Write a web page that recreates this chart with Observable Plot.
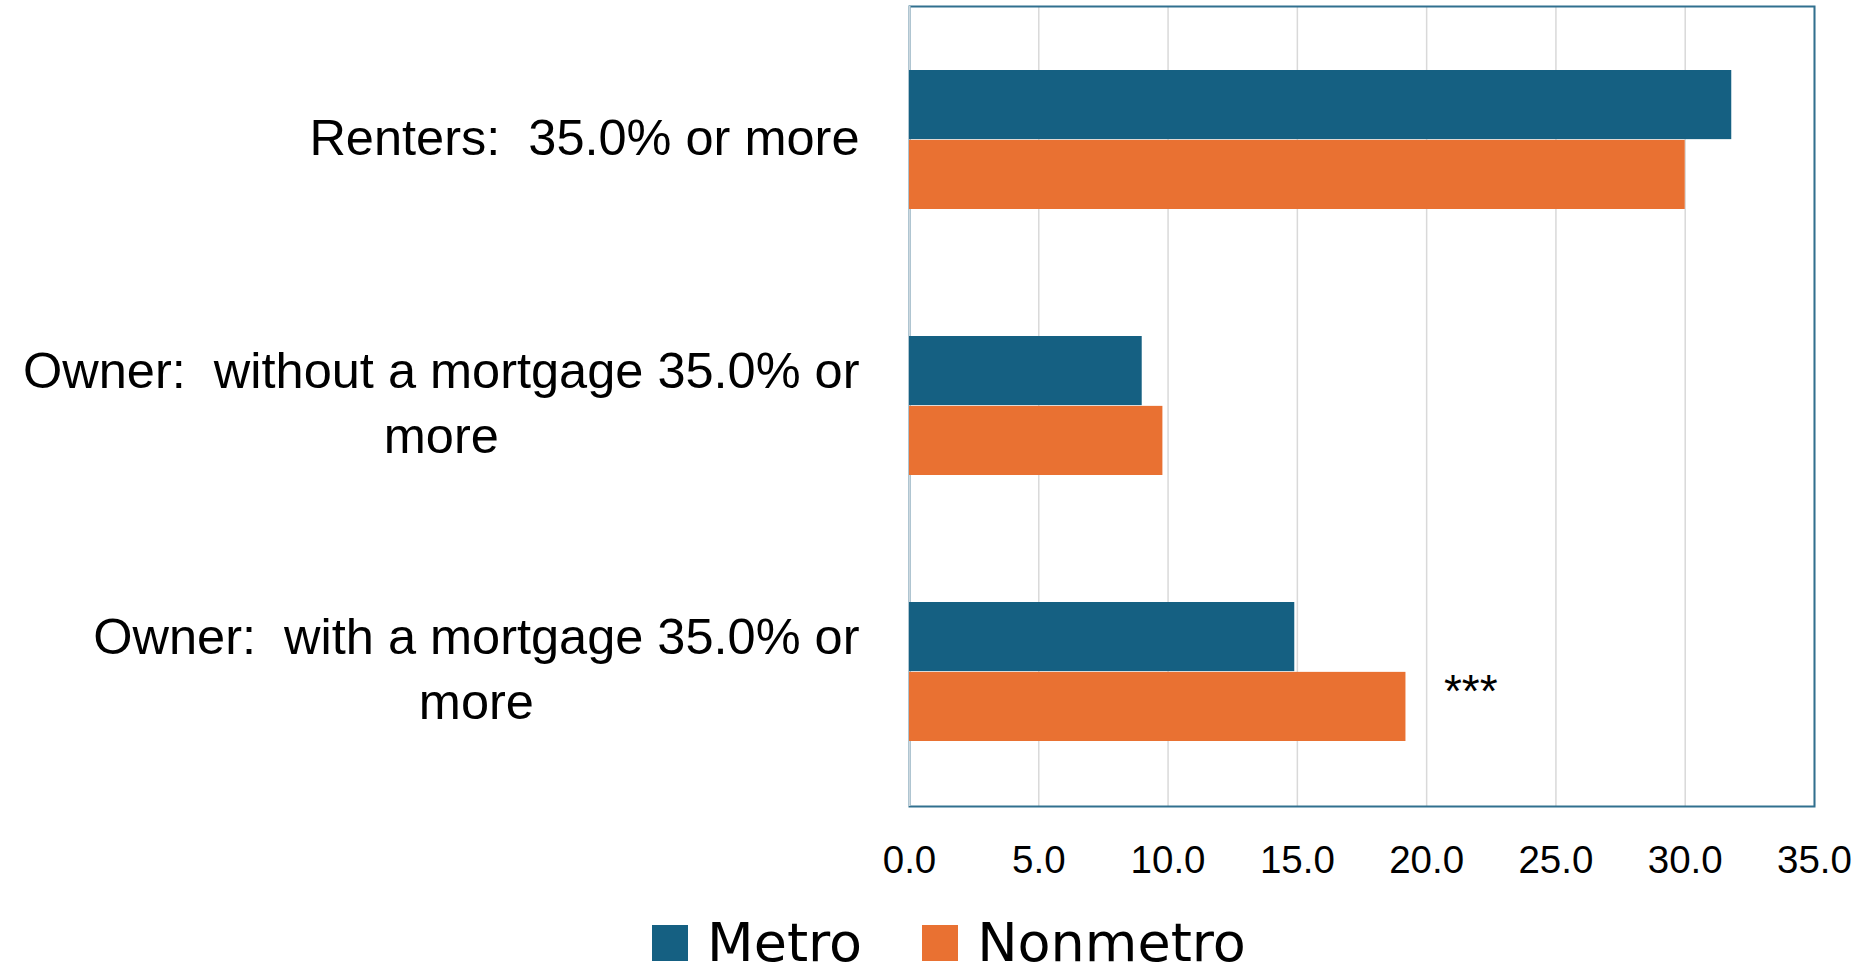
<!DOCTYPE html>
<html>
<head>
<meta charset="utf-8">
<script src="https://cdn.jsdelivr.net/npm/d3@7"></script>
<script src="https://cdn.jsdelivr.net/npm/@observablehq/plot@0.6"></script>
<style>
  html, body { margin: 0; padding: 0; background: #fff; overflow: hidden; }
  svg text { white-space: pre; }
  #legend { display: flex; justify-content: center; align-items: center; height: 46px; margin-top: 27px; padding-left: 22px;
    font-family: "DejaVu Sans", sans-serif; font-size: 54px; line-height: 46px; color: #000; }
  .item { display: flex; align-items: center; }
  .sw { width: 36px; height: 36px; margin-right: 19px; }
</style>
</head>
<body>
<div id="chart"></div>
<div id="legend"></div>
<script>
const categories = [
  "Renters:  35.0% or more",
  "Owner:  without a mortgage 35.0% or more",
  "Owner:  with a mortgage 35.0% or more"
];
const yTickLabels = [
  "Renters:  35.0% or more",
  "Owner:  without a mortgage 35.0% or\nmore",
  "Owner:  with a mortgage 35.0% or\nmore"
];
const series = ["Metro", "Nonmetro"];
const colors = ["#156082", "#E97132"];
const metro = [31.8, 9.0, 14.9];
const nonmetro = [30.0, 9.8, 19.2];
const xTicks = [0, 5, 10, 15, 20, 25, 30, 35];
const notes = [{category: categories[2], series: "Nonmetro", value: nonmetro[2], label: "***"}];

const width = 1876, height = 893;
const marginTop = 6, marginBottom = 87, marginLeft = 909, marginRight = 62;

const data = [];
categories.forEach((c, i) => {
  data.push({category: c, series: "Metro", value: metro[i]});
  data.push({category: c, series: "Nonmetro", value: nonmetro[i]});
});

const yOpts = {type: "band", domain: categories, paddingInner: 0.476, paddingOuter: 0.238};
const yScale = Plot.scale({y: {...yOpts, range: [marginTop, height - marginBottom]}});
const bw = yScale.bandwidth;

const plot = Plot.plot({
  width, height, marginTop, marginBottom, marginLeft, marginRight,
  style: {fontFamily: "'Liberation Sans', Arial, sans-serif", color: "#000", background: "#fff"},
  x: {domain: [0, 35]},
  y: yOpts,
  color: {domain: series, range: colors},
  marks: [
    Plot.gridX(xTicks, {stroke: "#d9d9d9", strokeOpacity: 1, strokeWidth: 1.5}),
    Plot.frame({stroke: "#31708f", strokeWidth: 2}),
    Plot.ruleX([0], {stroke: "#cbd8df", strokeWidth: 2}),
    Plot.barX(data.filter(d => d.series === "Metro"), {x: "value", y: "category", fill: "series", insetBottom: bw / 2}),
    Plot.barX(data.filter(d => d.series === "Nonmetro"), {x: "value", y: "category", fill: "series", insetTop: bw / 2}),
    Plot.text(notes, {x: "value", y: "category", text: "label", textAnchor: "start", dx: 38, dy: 20, fontSize: 46, fill: "#000"}),
    Plot.axisX({ticks: xTicks, tickFormat: d => d.toFixed(1), tickSize: 0, tickPadding: 39, fontSize: 38.5, label: null}),
    Plot.axisY({tickSize: 0, tickPadding: 50, fontSize: 50.5, lineHeight: 1.28, dy: -6, label: null,
      tickFormat: d => yTickLabels[categories.indexOf(d)]})
  ]
});
document.getElementById("chart").append(plot);

// Center multi-line y tick labels within their block (block right-aligned to axis)
plot.querySelectorAll('g[aria-label="y-axis tick label"] text').forEach(t => {
  const w = t.getBBox().width;
  t.setAttribute("text-anchor", "middle");
  t.setAttribute("transform", (t.getAttribute("transform") || "") + ` translate(${-w / 2},0)`);
});

const legend = document.getElementById("legend");
series.forEach((s, i) => {
  const item = document.createElement("div");
  item.className = "item";
  if (i > 0) item.style.marginLeft = "60px";
  const sw = document.createElement("div");
  sw.className = "sw";
  sw.style.background = colors[i];
  const lab = document.createElement("span");
  lab.textContent = s;
  item.append(sw, lab);
  legend.append(item);
});
</script>
</body>
</html>
